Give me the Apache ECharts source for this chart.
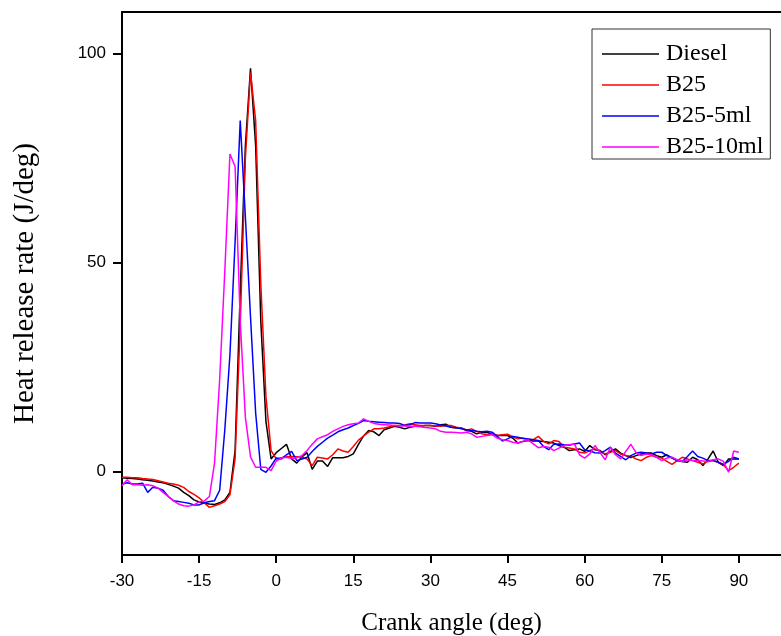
<!DOCTYPE html>
<html>
<head>
<meta charset="utf-8">
<script src="https://cdn.jsdelivr.net/npm/echarts@6/dist/echarts.min.js"></script>
<style>html,body{margin:0;padding:0;background:#fff;}#chart{width:781px;height:636px;}</style>
</head>
<body>
<div id="chart"></div>
<script>
const angles = [
-30,-29,-28,-27,-26,-25,-24,-23,-22,-21,
-20,-19,-18,-17,-16,-15,-14,-13,-12,-11,
-10,-9,-8,-7,-6,-5,-4,-3,-2,-1,
0,1,2,3,4,5,6,7,8,9,
10,11,12,13,14,15,16,17,18,19,
20,21,22,23,24,25,26,27,28,29,
30,31,32,33,34,35,36,37,38,39,
40,41,42,43,44,45,46,47,48,49,
50,51,52,53,54,55,56,57,58,59,
60,61,62,63,64,65,66,67,68,69,
70,71,72,73,74,75,76,77,78,79,
80,81,82,83,84,85,86,87,88,89,
90];
const diesel = [
-1.5,-1.6,-1.7,-1.8,-2.0,-2.1,-2.3,-2.5,-2.7,-3.1,
-3.5,-4.0,-5.0,-5.8,-6.8,-7.3,-7.6,-7.8,-7.9,-7.5,
-6.8,-5.0,5.0,43,78,96.5,78,36,12,3,
4.5,5.5,6.5,3.0,2.0,3.5,4.5,0.5,2.5,2.5,
1.2,3.3,3.3,3.3,3.6,4.2,6.5,8.5,9.8,9.5,
8.6,10.0,10.4,10.8,10.6,10.2,10.6,10.8,10.8,11.0,
11.0,10.8,11.2,11.3,10.6,10.4,10.4,9.8,9.6,9.0,
9.3,9.4,8.9,8.6,8.6,8.6,8.0,6.8,7.2,7.4,
7.3,7.3,7.2,7.0,6.8,6.2,5.8,5.0,5.2,5.4,
4.8,6.2,5.2,5.0,4.0,4.8,5.4,4.4,3.8,3.3,
3.8,4.2,4.4,4.4,3.8,3.4,4.0,3.2,2.6,2.4,
2.2,3.4,2.8,1.4,3.0,4.9,2.2,1.4,3.0,3.0,
3.0];
const b25 = [
-1.4,-1.4,-1.5,-1.5,-1.7,-1.8,-1.9,-2.2,-2.5,-2.8,
-3.0,-3.3,-3.8,-4.8,-5.5,-6.3,-7.5,-8.6,-8.2,-7.8,
-7.2,-5.6,3,35,75,95.5,84,45,18,5,
3.0,3.3,3.5,3.6,3.5,3.4,3.0,1.4,3.4,3.2,
3.0,4.0,5.4,4.9,4.6,6.0,7.5,8.5,9.4,10.2,
10.2,10.4,10.7,11.0,11.0,11.1,11.4,11.2,11.0,11.0,
11.0,10.9,10.8,11.0,11.0,10.6,10.4,9.9,10.2,9.6,
9.0,8.8,9.0,8.6,8.8,8.9,8.3,7.8,8.0,7.7,
7.6,8.4,7.2,6.6,7.4,7.2,5.8,5.6,5.4,4.6,
4.4,5.0,5.4,4.8,4.2,4.6,5.0,4.2,3.8,3.6,
3.0,2.6,3.4,3.8,3.4,3.2,2.4,1.7,2.6,3.4,
3.0,2.6,2.2,1.8,2.4,2.6,2.2,1.6,0.2,1.0,
2.0];
const b25_5ml = [
-3.0,-2.7,-3.0,-3.0,-2.8,-5.0,-3.8,-4.0,-4.5,-6.0,
-7.0,-7.2,-7.4,-7.6,-8.0,-8.0,-7.5,-7.2,-7.0,-4.5,
10,28,55,84,61,37,14,0.5,-0.2,1.3,
3.2,3.0,4.0,4.8,2.6,3.0,3.4,4.8,6.0,7.0,
8.0,8.7,9.5,10.0,10.4,11.0,11.5,12.2,12.0,11.9,
11.8,11.7,11.6,11.6,11.5,11.0,11.2,11.7,11.6,11.6,
11.6,11.4,11.1,10.9,10.6,10.5,10.2,10.0,9.8,9.6,
9.5,9.6,9.4,8.4,7.3,7.8,8.4,8.2,7.9,7.8,
7.6,7.4,6.0,5.2,6.5,6.6,6.4,6.3,6.6,6.8,
5.2,4.9,4.5,4.4,5.0,5.8,4.4,3.6,2.8,3.8,
4.4,4.6,4.4,4.2,4.6,4.6,3.8,3.3,2.6,2.4,
3.6,4.9,3.6,3.2,2.6,2.6,2.2,1.7,2.4,3.4,
3.0];
const b25_10ml = [
-3.4,-2.0,-3.2,-3.2,-3.3,-3.2,-3.4,-4.0,-5.0,-6.0,
-7.0,-7.8,-8.2,-8.3,-8.0,-7.3,-7.1,-6.0,2.0,22,
48,76,73,36,13,3.5,1.0,1.0,1.0,0.2,
2.5,3.2,3.4,3.1,3.3,3.8,5.0,6.5,7.8,8.3,
8.8,9.6,10.2,10.8,11.2,11.4,11.6,12.6,12.0,11.5,
11.3,11.2,11.1,11.0,10.9,10.9,10.8,10.8,10.7,10.5,
10.4,10.2,9.6,9.4,9.4,9.3,9.2,9.4,9.0,8.2,
8.4,8.6,8.8,8.0,7.6,7.4,7.0,6.8,7.2,7.6,
6.6,5.7,6.0,5.8,5.0,5.6,6.2,6.4,6.6,4.0,
3.2,4.2,6.2,4.5,2.8,5.8,4.0,3.0,4.8,6.5,
4.5,3.8,4.2,4.0,3.4,2.6,3.2,3.4,2.8,2.4,
2.8,2.6,2.6,2.5,2.4,2.8,3.0,2.4,-0.2,4.9,
4.6];
const seriesNames = ['Diesel', 'B25', 'B25-5ml', 'B25-10ml'];
const seriesColors = ['#000000', '#ff0000', '#0000ff', '#ff00ff'];
const xTicks = [-30, -15, 0, 15, 30, 45, 60, 75, 90];
const yTicks = [0, 50, 100];

const allValues = [diesel, b25, b25_5ml, b25_10ml];
const chart = echarts.init(document.getElementById('chart'), null, {renderer: 'canvas'});
const serif = '"Liberation Serif", "Times New Roman", serif';
const sans = '"Liberation Sans", Arial, sans-serif';
chart.setOption({
  animation: false,
  backgroundColor: '#ffffff',
  grid: {left: 122, top: 12, right: 0, bottom: 81, containLabel: false, outerBoundsMode: 'none'},
  legend: {
    orient: 'vertical',
    left: 592, top: 29,
    padding: [13, 7, 0, 10],
    icon: 'rect',
    itemWidth: 57, itemHeight: 1.6, itemGap: 7,
    borderColor: '#333', borderWidth: 1,
    textStyle: {fontFamily: serif, fontSize: 24, color: '#000', lineHeight: 24, padding: [0, 0, 0, 2]},
    data: seriesNames
  },
  xAxis: [{
    type: 'value', min: -30, max: 98.2, position: 'bottom',
    name: 'Crank angle (deg)', nameLocation: 'middle', nameGap: 56,
    nameTextStyle: {fontFamily: serif, fontSize: 25, color: '#000'},
    axisLine: {show: true, onZero: false, lineStyle: {color: '#000', width: 2}},
    axisTick: {show: true, inside: false, length: 8, customValues: xTicks, lineStyle: {color: '#000', width: 2}},
    axisLabel: {customValues: xTicks, margin: 18, fontFamily: sans, fontSize: 17, color: '#000'},
    splitLine: {show: false}
  }, {
    type: 'value', min: -30, max: 98.2, position: 'top',
    axisLine: {show: true, onZero: false, lineStyle: {color: '#000', width: 2}},
    axisTick: {show: false}, axisLabel: {show: false}, splitLine: {show: false}
  }],
  yAxis: {
    type: 'value', min: -20, max: 110,
    name: 'Heat release rate (J/deg)', nameLocation: 'middle', nameGap: 82, nameRotate: 90,
    nameTextStyle: {fontFamily: serif, fontSize: 29, color: '#000'},
    axisLine: {show: true, onZero: false, lineStyle: {color: '#000', width: 2}},
    axisTick: {show: true, inside: false, length: 9, customValues: yTicks, lineStyle: {color: '#000', width: 2}},
    axisLabel: {customValues: yTicks, margin: 16, fontFamily: sans, fontSize: 17, color: '#000'},
    splitLine: {show: false}
  },
  series: seriesNames.map((name, k) => ({
    name: name,
    type: 'line',
    xAxisIndex: 0,
    symbol: 'none',
    smooth: false,
    color: seriesColors[k],
    lineStyle: {color: seriesColors[k], width: 1.5},
    data: angles.map((a, i) => [a, allValues[k][i]])
  }))
});
</script>
</body>
</html>
